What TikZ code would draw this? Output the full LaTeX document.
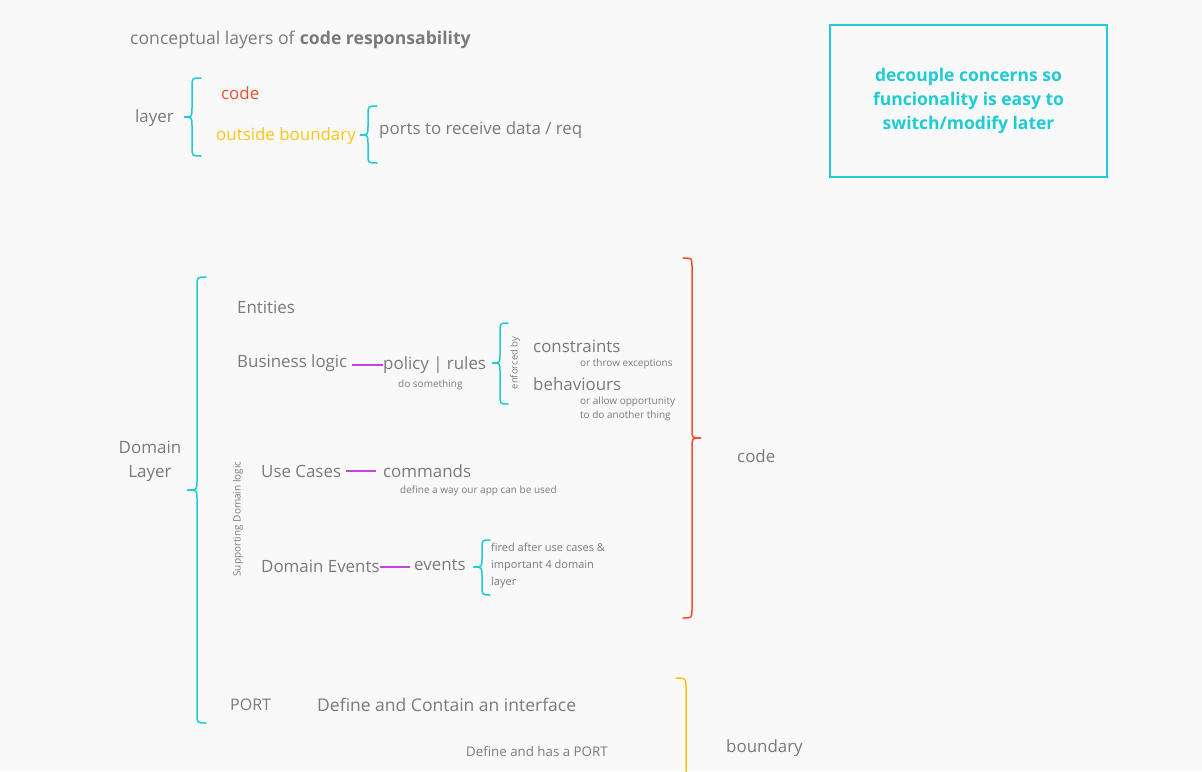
\documentclass[tikz,border=0pt]{standalone}
\usepackage{fontspec}
\setmainfont{Open Sans}
\definecolor{bg}{HTML}{F9F9F9}
\definecolor{txt}{HTML}{7A7A7A}
\definecolor{cyanc}{HTML}{1FCCD6}
\definecolor{redc}{HTML}{F04E2D}
\definecolor{yelc}{HTML}{FFC414}
\definecolor{purc}{HTML}{C244DA}
\newcommand{\lbr}[6]{% vertical x, top y, tip y, bottom y, hook dx, tip dx
  (#1+#5,#2) .. controls (#1,#2) .. (#1,#2+9) -- (#1,#3-9) .. controls (#1,#3) .. (#1-#6,#3)
  .. controls (#1,#3) .. (#1,#3+9) -- (#1,#4-9) .. controls (#1,#4) .. (#1+#5,#4)}
\newcommand{\rbr}[6]{%
  (#1-#5,#2) .. controls (#1,#2) .. (#1,#2+9) -- (#1,#3-9) .. controls (#1,#3) .. (#1+#6,#3)
  .. controls (#1,#3) .. (#1,#3+9) -- (#1,#4-9) .. controls (#1,#4) .. (#1-#5,#4)}
\begin{document}
\begin{tikzpicture}[x=1pt,y=-1pt,
  every node/.style={inner sep=0pt, text=txt},
  lbl/.style={anchor=west, yshift=-1pt, font=\fontsize{16.9}{20}\selectfont},
  mid/.style={anchor=west, yshift=-1pt, font=\fontsize{16}{19}\selectfont},
  small/.style={anchor=west, yshift=-1.5pt, font=\fontsize{10}{14}\selectfont},
  note/.style={anchor=north west, align=left, font=\fontsize{11}{17}\selectfont},
  brc/.style={line width=1.5pt, line cap=round},
  link/.style={draw=purc, line width=2pt}]
\fill[bg] (0,0) rectangle (1202,771);
\useasboundingbox (0,0) rectangle (1202,771);

% title
\node[lbl, yshift=-1pt, font=\fontsize{17.6}{22}\selectfont] (title) at (130,38) {conceptual layers of \textbf{code responsability}};

% legend
\node[lbl, yshift=-1pt] (layer) at (135,116) {layer};
\draw[brc, cyanc] \lbr{192}{78}{117}{156}{9}{8};
\node[lbl, text=redc] (lcode) at (221,92) {code};
\node[lbl, text=yelc] (lbound) at (216,135) {outside boundary};
\draw[brc, cyanc] \lbr{368}{106}{135}{163}{9}{8};
\node[lbl] (ports) at (379,129) {ports to receive data / req};

% box
\node[draw=cyanc, line width=2pt, minimum width=277pt, minimum height=152pt,
  text=cyanc, font=\bfseries\fontsize{17.5}{24}\selectfont, align=center] (box) at (968.5,101)
  {decouple concerns so\\funcionality is easy to\\switch/modify later};

% domain layer
\draw[brc, cyanc] \lbr{197}{277}{490}{723}{9}{10};
\node[lbl, align=center, anchor=center, font=\fontsize{17}{24}\selectfont] (dom) at (150,460) {Domain\\Layer};

\node[lbl] (ent) at (237,306) {Entities};
\node[lbl] (bl) at (237,362) {Business logic};
\node[lbl] (pol) at (383,364) {policy | rules};
\draw[link] (pol.west) ++(-31,0) -- (pol.west);
\node[small] (dos) at (398,383) {do something};
\draw[brc, cyanc] \rbr{500}{323}{363}{404}{-8}{-8};
\node[small, anchor=center, yshift=1.5pt, rotate=90, font=\fontsize{9.5}{12}\selectfont] (enf) at (515,363) {enforced by};
\node[lbl] (cons) at (533,345) {constraints};
\node[small] (thr) at (580,362) {or throw exceptions};
\node[lbl] (beh) at (533,383) {behaviours};
\node[small, anchor=north west, yshift=0pt, align=left, font=\fontsize{10}{14}\selectfont] (allow) at (580,395) {or allow opportunity\\to do another thing};

\node[small, anchor=center, yshift=1.5pt, rotate=90] (sup) at (238,519) {Supporting Domain logic};
\node[lbl] (uc) at (261,470) {Use Cases};
\node[lbl] (cmd) at (383,470) {commands};
\draw[link] (cmd.west) ++(-37,0) -- ++(30,0);
\node[small] (def) at (400,489) {define a way our app can be used};

\node[lbl] (de) at (261,565) {Domain Events};
\node[lbl] (ev) at (414,564) {events};
\draw[link] (ev.west) ++(-34,2) -- ++(30,0);
\draw[brc, cyanc] \lbr{482}{540}{567}{595}{8}{9};
\node[note] (fired) at (491,543) {fired after use cases \&\\important 4 domain\\layer};

% code brace
\draw[brc, redc] \rbr{692}{258}{438}{618}{9}{9};
\node[lbl] (code) at (737,455) {code};

% port
\node[mid] (port) at (230,704) {PORT};
\node[lbl, font=\fontsize{17.5}{20}\selectfont] (iface) at (317,704) {Define and Contain an interface};
\node[small, font=\fontsize{13.3}{16}\selectfont] (has) at (466,750) {Define and has a PORT};
\draw[brc, yelc] (676,678) .. controls (686,678) .. (686,688) -- (686,775);
\node[lbl] (bnd) at (726,747) {boundary};
\end{tikzpicture}
\end{document}
